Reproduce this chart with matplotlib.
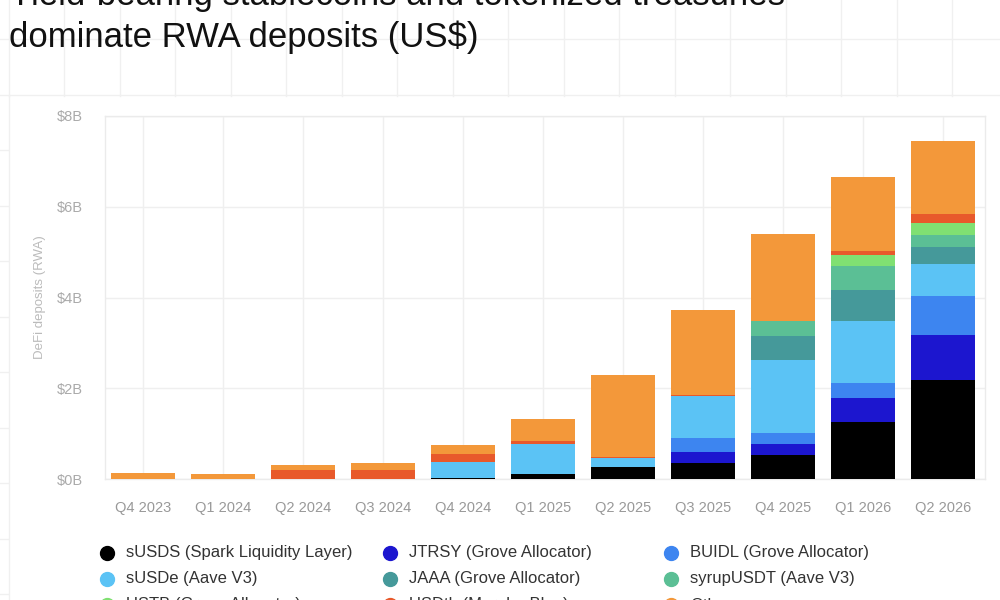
import numpy as np
import matplotlib
matplotlib.use('agg')
import matplotlib.pyplot as plt
from matplotlib.lines import Line2D

plt.rcParams['font.family'] = ['Liberation Sans', 'DejaVu Sans']

# Quarterly DeFi deposits of RWA tokens, US$ billions
quarters = ['Q4 2023', 'Q1 2024', 'Q2 2024', 'Q3 2024', 'Q4 2024', 'Q1 2025',
            'Q2 2025', 'Q3 2025', 'Q4 2025', 'Q1 2026', 'Q2 2026']

susds = [0, 0, 0, 0, 0.02, 0.11, 0.26, 0.35, 0.53, 1.26, 2.19]
jtrsy = [0, 0, 0, 0, 0, 0, 0, 0.24, 0.24, 0.53, 0.98]
buidl = [0, 0, 0, 0, 0, 0, 0, 0.32, 0.25, 0.33, 0.86]
susde = [0, 0, 0, 0, 0.36, 0.66, 0.21, 0.91, 1.60, 1.37, 0.70]
jaaa = [0, 0, 0, 0, 0, 0, 0, 0, 0.54, 0.68, 0.38]
syrupusdt = [0, 0, 0, 0, 0, 0, 0, 0, 0.33, 0.53, 0.26]
ustb = [0, 0, 0, 0, 0, 0, 0, 0, 0, 0.24, 0.28]
usdtb = [0, 0, 0.19, 0.19, 0.18, 0.07, 0.02, 0.03, 0, 0.09, 0.18]
other = [0.14, 0.10, 0.11, 0.16, 0.19, 0.48, 1.81, 1.87, 1.91, 1.62, 1.63]

series_names = ['sUSDS (Spark Liquidity Layer)', 'JTRSY (Grove Allocator)', 'BUIDL (Grove Allocator)',
                'sUSDe (Aave V3)', 'JAAA (Grove Allocator)', 'syrupUSDT (Aave V3)',
                'USTB (Grove Allocator)', 'USDtb (Morpho Blue)', 'Other']
series_values = [susds, jtrsy, buidl, susde, jaaa, syrupusdt, ustb, usdtb, other]
series_colors = ['#000000', '#1c16cf', '#3d85f0', '#5bc3f5', '#45999a', '#5bbf95',
                 '#80e072', '#e8592b', '#f3983a']

y_ticks = [0, 2, 4, 6, 8]
y_ticklabels = ['$0B', '$2B', '$4B', '$6B', '$8B']

W, H = 1000, 600
fig = plt.figure(figsize=(10, 6), dpi=100)
fig.patch.set_facecolor('white')


def fx(px):
    return px / W


def fy(py):
    return 1 - py / H


# faint page grid behind the card
page_grid = '#f0f0f0'
for gx in np.arange(8.5, W, 55.5):
    fig.add_artist(Line2D([fx(gx), fx(gx)], [fy(0), fy(96)], color=page_grid, lw=1, zorder=0))
for gy in [39, 94.5]:
    fig.add_artist(Line2D([0, 1], [fy(gy), fy(gy)], color=page_grid, lw=1, zorder=0))
for gy in np.arange(150, H, 55.5):
    fig.add_artist(Line2D([0, fx(8)], [fy(gy), fy(gy)], color=page_grid, lw=1, zorder=0))
fig.add_artist(Line2D([fx(8.5), fx(8.5)], [fy(96), 0], color=page_grid, lw=1, zorder=0))

# title (first line is cropped at the top, as in the source)
fig.text(fx(9), fy(5), 'Yield-bearing stablecoins and tokenized treasuries',
         fontsize=25, color='#111111', va='baseline', ha='left')
fig.text(fx(9), fy(47), 'dominate RWA deposits (US$)',
         fontsize=25, color='#111111', va='baseline', ha='left')

ax = fig.add_axes([fx(105), fy(479), fx(985) - fx(105), fy(116) - fy(479)])
x = np.arange(len(quarters))
bottom = np.zeros(len(quarters))
for name, vals, col in zip(series_names, series_values, series_colors):
    vals = np.array(vals, dtype=float)
    ax.bar(x, vals, width=0.8, bottom=bottom, color=col, label=name, zorder=3)
    bottom += vals

ax.set_xlim(-0.475, len(quarters) - 0.475)
ax.set_ylim(0, 8)
ax.set_xticks(x)
ax.set_xticklabels(quarters)
ax.set_yticks(y_ticks)
ax.set_yticklabels(y_ticklabels)
ax.tick_params(axis='x', length=0, pad=16, labelsize=10.5, labelcolor='#999999')
ax.tick_params(axis='y', length=0, pad=16, labelsize=10.5, labelcolor='#aaaaaa')
ax.grid(True, color='#efefef', lw=1, zorder=0)
ax.set_axisbelow(True)
for sp in ax.spines.values():
    sp.set_color('#ebebeb')
    sp.set_linewidth(1)
ax.set_ylabel('DeFi deposits (RWA)', fontsize=9.5, color='#bbbbbb')
ax.yaxis.set_label_coords((46 - 105) / 880, 0.5)

# legend, three columns, filled row by row
col_x = [107, 390, 671]
row_y = [553, 579, 605]
for i, (name, col) in enumerate(zip(series_names, series_colors)):
    cx, cy = col_x[i % 3], row_y[i // 3]
    fig.add_artist(Line2D([fx(cx)], [fy(cy)], marker='o', markersize=10,
                          markerfacecolor=col, markeredgecolor=col, lw=0))
    fig.text(fx(cx + 19), fy(cy), name, fontsize=12, color='#333333', va='center', ha='left')

plt.savefig('out.png', dpi=100, facecolor='white')
